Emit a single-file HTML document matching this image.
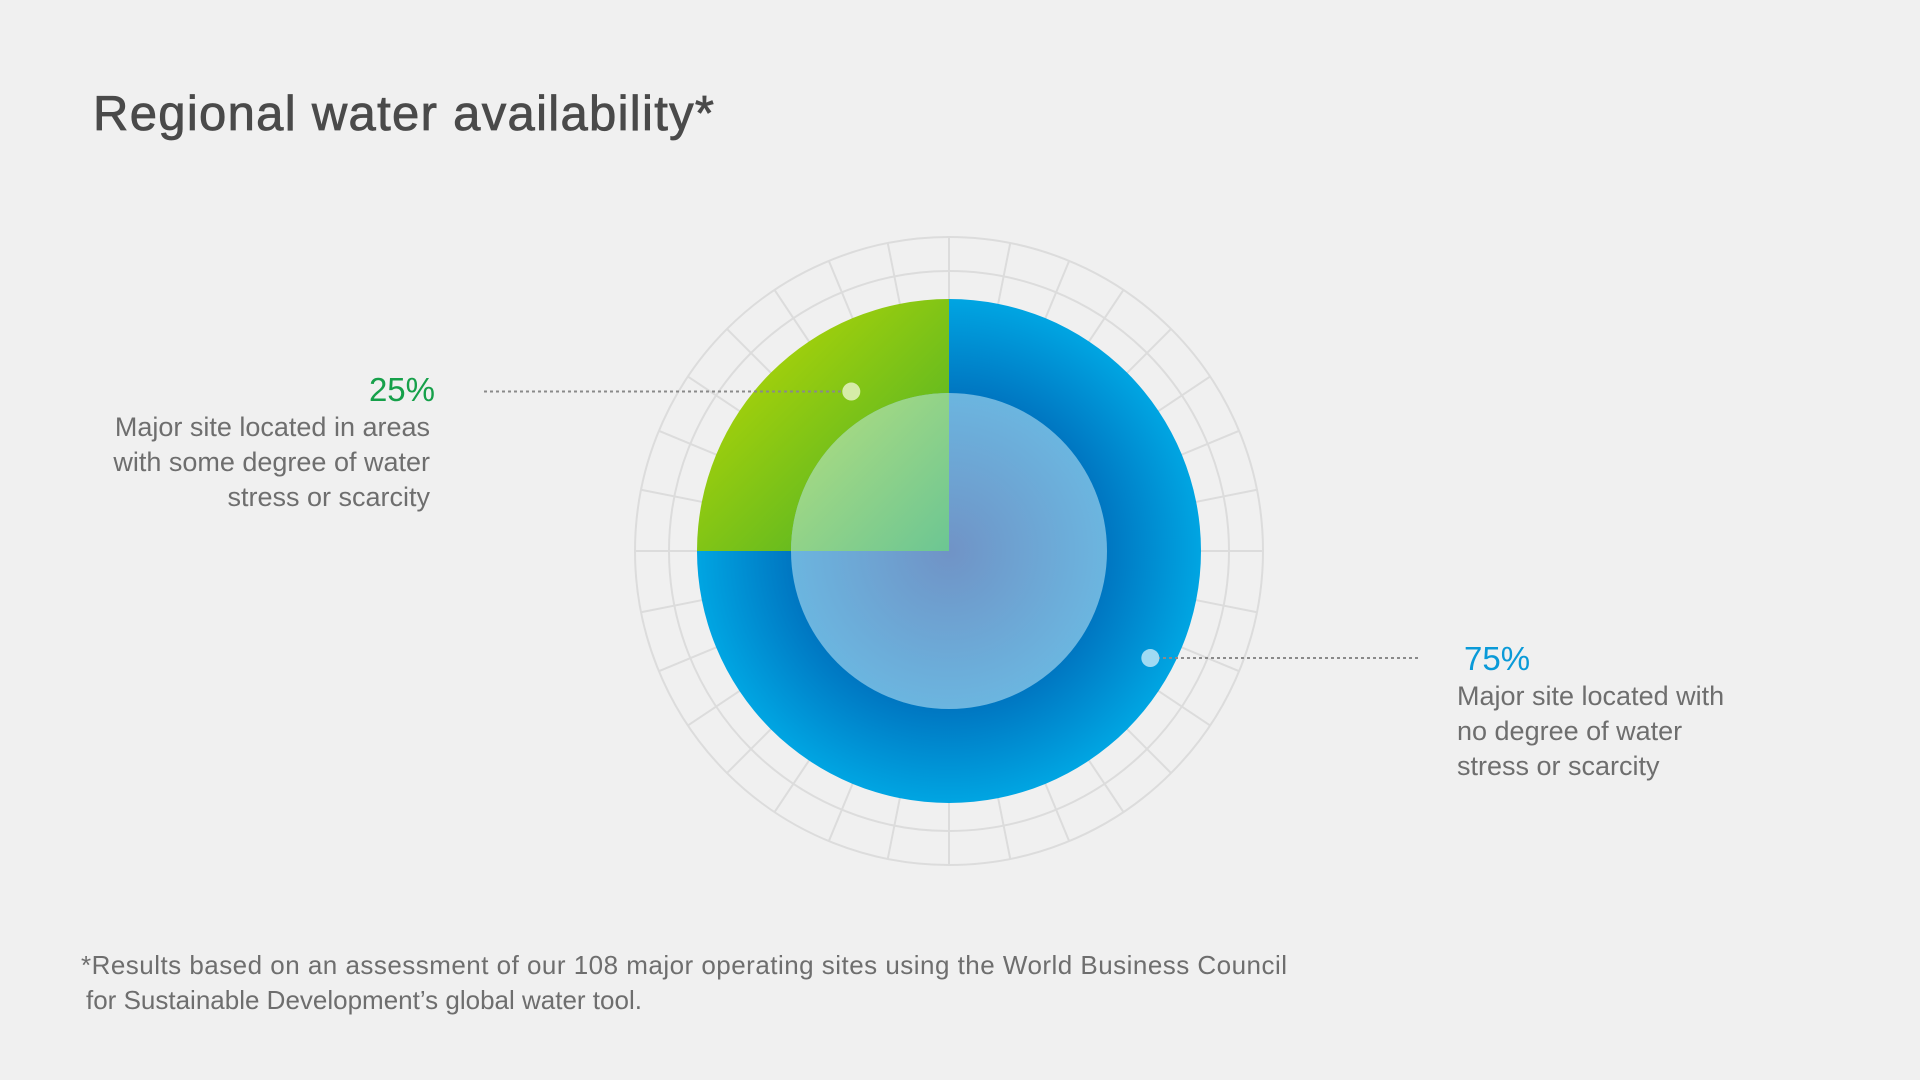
<!DOCTYPE html>
<html><head><meta charset="utf-8">
<style>
html,body{margin:0;padding:0;background:#f0f0f0;}
body{width:1920px;height:1080px;overflow:hidden;position:relative;font-family:"Liberation Sans",sans-serif;}
svg{position:absolute;left:0;top:0;}
</style></head>
<body>
<svg id="chart" width="1920" height="1080" viewBox="0 0 1920 1080">
<defs>
<linearGradient id="gGreen" x1="0" y1="0" x2="1" y2="1" gradientUnits="objectBoundingBox">
<stop offset="0" stop-color="#c4dc00"/><stop offset="1" stop-color="#3fad2c"/></linearGradient>
<radialGradient id="gBlue" cx="949" cy="551" r="252" gradientUnits="userSpaceOnUse">
<stop offset="0.6" stop-color="#0073bf"/><stop offset="1" stop-color="#00a5e2"/></radialGradient>
<radialGradient id="gInner" cx="949" cy="551" r="160" gradientUnits="userSpaceOnUse">
<stop offset="0" stop-color="#7093c6"/><stop offset="1" stop-color="#6bb6e0"/></radialGradient>
<linearGradient id="gInnerGreen" x1="0" y1="0" x2="1" y2="1">
<stop offset="0" stop-color="#b6df7e"/><stop offset="1" stop-color="#6cc693"/></linearGradient>
</defs>
<text x="93" y="130" font-size="49" fill="#4a4a4a" stroke="#4a4a4a" stroke-width="0.8" textLength="621">Regional water availability*</text>
<g id="grid"></g>
<g id="slices"></g>
<g id="annot"></g>
<text x="435" y="401" text-anchor="end" font-size="33" fill="#16a04a">25%</text>
<g font-size="27" fill="#6e6e6e" text-anchor="end">
<text x="430" y="436">Major site located in areas</text>
<text x="430" y="471">with some degree of water</text>
<text x="430" y="506">stress or scarcity</text></g>
<text x="1464" y="670" font-size="33" fill="#0a9ad8">75%</text>
<g font-size="27" fill="#6e6e6e">
<text x="1457" y="705">Major site located with</text>
<text x="1457" y="740">no degree of water</text>
<text x="1457" y="775">stress or scarcity</text></g>
<g font-size="26" fill="#6e6e6e">
<text x="81" y="974" textLength="1206">*Results based on an assessment of our 108 major operating sites using the World Business Council</text>
<text x="86" y="1009">for Sustainable Development’s global water tool.</text></g>
</svg>
<script>
const categories = ["Water stress or scarcity", "No water stress"];
const values = [25, 75];
const sliceFills = ["url(#gGreen)", "url(#gBlue)"];
const NS = "http://www.w3.org/2000/svg";
const cx = 949, cy = 551, R = 252, rIn = 158;
const total = values.reduce((a, b) => a + b, 0);
function pt(a, r) { const t = (a - 90) * Math.PI / 180; return [cx + r * Math.cos(t), cy + r * Math.sin(t)]; }
function sector(a0, a1, r) {
  const p0 = pt(a0, r), p1 = pt(a1, r), large = (a1 - a0) > 180 ? 1 : 0;
  return `M${cx},${cy} L${p0[0]},${p0[1]} A${r},${r} 0 ${large} 1 ${p1[0]},${p1[1]} Z`;
}
const grid = document.getElementById('grid');
[314, 280].forEach((r, i) => {
  const c = document.createElementNS(NS, 'circle');
  
  
  c.setAttribute('cx', cx); c.setAttribute('cy', cy); c.setAttribute('r', r);
  c.setAttribute('fill', 'none'); c.setAttribute('stroke', '#dcdcdc'); c.setAttribute('stroke-width', '2');
  grid.appendChild(c);
});
for (let k = 0; k < 32; k++) {
  const a = k * 11.25, p0 = pt(a, 240), p1 = pt(a, 314);
  const l = document.createElementNS(NS, 'line');
  
  
  l.setAttribute('x1', p0[0]); l.setAttribute('y1', p0[1]); l.setAttribute('x2', p1[0]); l.setAttribute('y2', p1[1]);
  l.setAttribute('stroke', '#dcdcdc'); l.setAttribute('stroke-width', '2');
  grid.appendChild(l);
}
const slices = document.getElementById('slices');
const gSpan = values[0] / total * 360;
const ranges = [[360 - gSpan, 360], [0, 360 - gSpan]];
ranges.forEach((rg, i) => {
  const p = document.createElementNS(NS, 'path');
  
  
  p.setAttribute('d', sector(rg[0], rg[1], R));
  p.setAttribute('fill', sliceFills[i]);
  slices.appendChild(p);
});
const inner = document.createElementNS(NS, 'circle');


inner.setAttribute('cx', cx); inner.setAttribute('cy', cy); inner.setAttribute('r', rIn);
inner.setAttribute('fill', 'url(#gInner)');
slices.appendChild(inner);
const innerG = document.createElementNS(NS, 'path');


innerG.setAttribute('d', sector(ranges[0][0], ranges[0][1], rIn));
innerG.setAttribute('fill', 'url(#gInnerGreen)');
slices.appendChild(innerG);
const annot = document.getElementById('annot');
const dotDefs = [
  { a: ranges[0][0] + 0.65 * (ranges[0][1] - ranges[0][0]), r: 187, fill: '#d6eca8', lx: 484, name: 'dot-25' },
  { a: ranges[1][0] + 0.437 * (ranges[1][1] - ranges[1][0]), r: 228, fill: '#a0daf3', lx: 1418, name: 'dot-75' }
];
dotDefs.forEach(d => {
  const p = pt(d.a, d.r);
  const l = document.createElementNS(NS, 'line');
  
  
  l.setAttribute('x1', d.lx); l.setAttribute('y1', p[1]); l.setAttribute('x2', p[0]); l.setAttribute('y2', p[1]);
  l.setAttribute('stroke', '#8a8a8a'); l.setAttribute('stroke-width', '2'); l.setAttribute('stroke-dasharray', '3 3');
  annot.appendChild(l);
  const c = document.createElementNS(NS, 'circle');
  
  
  c.setAttribute('cx', p[0]); c.setAttribute('cy', p[1]); c.setAttribute('r', 9);
  c.setAttribute('fill', d.fill);
  annot.appendChild(c);
});
</script>
</body></html>
